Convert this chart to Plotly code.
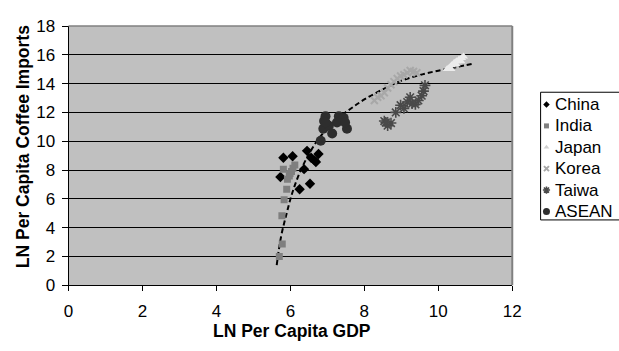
import plotly.graph_objects as go

# ---- data ----
china_x = [5.81, 6.06, 6.45, 6.76, 6.56, 6.65, 6.69, 6.37, 5.73, 6.25, 6.53]
china_y = [8.85, 8.96, 9.33, 9.11, 8.85, 8.67, 8.56, 8.06, 7.51, 6.66, 7.05]

india_x = [5.81, 6.12, 6.03, 5.97, 5.92, 5.90, 5.83, 5.77, 5.78, 5.70, 6.07, 5.99]
india_y = [8.06, 8.34, 7.90, 7.58, 7.36, 6.66, 5.93, 4.82, 2.87, 2.00, 8.12, 7.75]

japan_x = [10.24, 10.30, 10.36, 10.43, 10.49, 10.56, 10.63, 10.68, 10.34, 10.48, 10.61]
japan_y = [15.02, 15.12, 15.28, 15.45, 15.56, 15.67, 15.78, 15.89, 15.02, 15.34, 15.56]

korea_x = [8.27, 8.36, 8.45, 8.54, 8.63, 8.72, 8.80, 8.89, 8.98, 9.07, 9.16, 9.24, 9.33, 9.42]
korea_y = [12.83, 13.05, 13.16, 13.37, 13.70, 13.92, 14.14, 14.36, 14.53, 14.62, 14.75, 14.91, 14.84, 14.75]

taiwan_x = [8.54, 8.63, 8.72, 8.85, 8.98, 9.07, 9.16, 9.24, 9.29, 9.38, 9.46, 9.55, 9.60, 9.64, 8.58]
taiwan_y = [11.40, 11.08, 11.26, 12.00, 12.50, 12.28, 12.72, 13.05, 12.61, 12.56, 12.83, 13.16, 13.48, 13.88, 11.30]

asean_x = [6.95, 6.91, 6.89, 7.04, 7.13, 6.82, 7.31, 7.44, 7.53, 7.26, 7.48, 6.95]
asean_y = [11.73, 11.40, 10.86, 11.08, 10.53, 10.03, 11.73, 11.62, 10.86, 11.30, 11.30, 11.30]

trend_x = [5.63, 5.75, 5.90, 6.05, 6.25, 6.50, 6.80, 7.20, 7.60, 8.00, 8.50, 9.00, 9.50, 10.00, 10.50, 10.96]
trend_y = [1.40, 3.40, 5.00, 6.40, 7.80, 9.10, 10.30, 11.40, 12.20, 12.90, 13.60, 14.20, 14.60, 14.90, 15.15, 15.40]

x_ticks = [0, 2, 4, 6, 8, 10, 12]
y_ticks = [0, 2, 4, 6, 8, 10, 12, 14, 16, 18]

series_names = ["China", "India", "Japan", "Korea", "Taiwa", "ASEAN"]

W, H = 619, 351
FONT = "Liberation Sans, Arial, sans-serif"

# plot area in pixels
PL, PR, PT, PB = 65, 519, 18, 292

def px(x):
    return x / W

def py(y):
    return 1 - y / H

styles = {
    "China": dict(symbol="diamond", size=8, color="black"),
    "India": dict(symbol="square", size=7, color="#7f7f7f"),
    "Japan": dict(symbol="triangle-up", size=8, color="#ececec"),
    "Korea": dict(symbol="x-thin", size=7, color="#a8a8a8", line=dict(color="#a8a8a8", width=2)),
    "Taiwa": dict(symbol="asterisk", size=9, color="#4a4a4a", line=dict(color="#4a4a4a", width=1.6)),
    "ASEAN": dict(symbol="circle", size=10, color="#2e2e2e"),
}
legend_colors = {"Japan": "#d0d0d0"}
data = {
    "China": (china_x, china_y),
    "India": (india_x, india_y),
    "Japan": (japan_x, japan_y),
    "Korea": (korea_x, korea_y),
    "Taiwa": (taiwan_x, taiwan_y),
    "ASEAN": (asean_x, asean_y),
}

fig = go.Figure()

fig.add_trace(go.Scatter(x=trend_x, y=trend_y, mode="lines", showlegend=False,
                         line=dict(color="black", width=2, dash="5px,3px", shape="spline"),
                         hoverinfo="skip"))

for name in series_names:
    xs, ys = data[name]
    fig.add_trace(go.Scatter(x=xs, y=ys, mode="markers", name=name, showlegend=False,
                             marker=styles[name]))

# ---- hand-made legend (pixel overlay axes) ----
leg_left, leg_top, leg_bottom = 548, 88, 223
item_y0, item_dy = 101, 22.6
marker_x, text_x = 554, 561

for i, name in enumerate(series_names):
    st = dict(styles[name])
    st["size"] = max(5, st["size"] - 3)
    if name in legend_colors:
        st["color"] = legend_colors[name]
    fig.add_trace(go.Scatter(x=[marker_x], y=[item_y0 + i * item_dy], mode="markers",
                             xaxis="x2", yaxis="y2", showlegend=False, hoverinfo="skip",
                             marker=st, cliponaxis=False))
    fig.add_annotation(text=name, xref="paper", yref="paper",
                       x=px(text_x), y=py(item_y0 + i * item_dy),
                       xanchor="left", yanchor="middle", showarrow=False,
                       font=dict(family=FONT, size=17, color="black"))

fig.add_shape(type="rect", xref="paper", yref="paper",
              x0=px(leg_left), x1=px(W + 10), y0=py(leg_bottom), y1=py(leg_top),
              line=dict(color="black", width=1), fillcolor="white", layer="below")

# gray plot background
fig.add_shape(type="rect", xref="paper", yref="paper",
              x0=px(PL), x1=px(PR), y0=py(PB), y1=py(PT),
              line=dict(width=0), fillcolor="#c0c0c0", layer="below")

# gray border on top and right of plot area
fig.add_shape(type="line", xref="paper", yref="paper", x0=px(PL), x1=px(PR), y0=py(PT), y1=py(PT),
              line=dict(color="#808080", width=1.5), layer="above")
fig.add_shape(type="line", xref="paper", yref="paper", x0=px(PR), x1=px(PR), y0=py(PB), y1=py(PT),
              line=dict(color="#808080", width=2), layer="above")

# axis titles
fig.add_annotation(text="<b>LN Per Capita GDP</b>", xref="paper", yref="paper",
                   x=px(294), y=py(340), xanchor="center", yanchor="middle", showarrow=False,
                   font=dict(family=FONT, size=17.5, color="black"))
fig.add_annotation(text="<b>LN Per Capita Coffee Imports</b>", xref="paper", yref="paper",
                   x=px(18.5), y=py(146), xanchor="center", yanchor="middle", showarrow=False,
                   textangle=-90, font=dict(family=FONT, size=17.5, color="black"))

fig.update_layout(
    width=W, height=H,
    margin=dict(l=0, r=0, t=0, b=0),
    paper_bgcolor="white",
    plot_bgcolor="rgba(0,0,0,0)",
    font=dict(family=FONT, size=17, color="black"),
    showlegend=False,
    xaxis=dict(
        domain=[px(PL), px(PR)], anchor="y",
        range=[0, 12], tickvals=x_ticks, ticktext=[str(v) for v in x_ticks],
        showgrid=False, zeroline=False,
        showline=True, linecolor="black", linewidth=1,
        ticks="outside", ticklen=5, tickcolor="black",
        ticklabelstandoff=5,
        tickfont=dict(family=FONT, size=17),
    ),
    yaxis=dict(
        domain=[py(PB), py(PT)], anchor="x",
        range=[0, 18], tickvals=y_ticks, ticktext=[str(v) for v in y_ticks],
        showgrid=True, gridcolor="black", gridwidth=1, zeroline=False,
        showline=True, linecolor="black", linewidth=1,
        ticks="outside", ticklen=6, tickcolor="black",
        ticklabelstandoff=3,
        tickfont=dict(family=FONT, size=17),
    ),
    xaxis2=dict(domain=[0, 1], anchor="y2", range=[0, W], visible=False, fixedrange=True),
    yaxis2=dict(domain=[0, 1], anchor="x2", range=[H, 0], visible=False, fixedrange=True),
)

fig.write_html("out.html")
